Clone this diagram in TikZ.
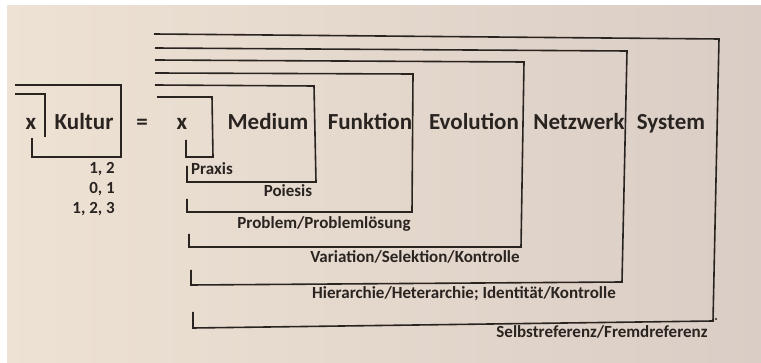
\documentclass[tikz,border=0pt]{standalone}
\usepackage{fontspec}
\setmainfont{Carlito}
\begin{document}
\begin{tikzpicture}[x=1pt,y=-1pt,
  mk/.style={line width=1.6pt,draw=ink,line join=miter},
  big/.style={inner sep=0pt,anchor=base,text=ink,font=\bfseries\fontsize{23}{27}\selectfont},
  small/.style={inner sep=0pt,anchor=base,text=ink,font=\bfseries\fontsize{17}{20}\selectfont}]
\definecolor{ink}{HTML}{2A2421}
\definecolor{paperL}{HTML}{EEE2D4}
\definecolor{paperR}{HTML}{DACDC5}
% paper
\useasboundingbox (0,0) rectangle (761,363);
\shade[left color=paperL,right color=paperR] (0,0) rectangle (761,363);
\fill[white] (0,0) rectangle (761,5);
\fill[white] (0,0) rectangle (7,363);

% left side: x re-entering Kultur
\draw[mk] (15,85) -- (121,85) -- (121,157) -- (32,157) -- (32,138);
\draw[mk] (15,94) -- (45,94) -- (45,137);
\node[big] (x1) at (31,130) {x};
\node[big] (kultur) at (84,130) {Kultur};
\node[big] (eq) at (142,130) {=};
\node[small,anchor=base east] (n1) at (115,174) {1, 2};
\node[small,anchor=base east] (n2) at (115,194) {0, 1};
\node[small,anchor=base east] (n3) at (115,214) {1, 2, 3};

% right side: nested marks with re-entry
\draw[mk] (157,97) -- (212,97) -- (213,157) -- (186,157) -- (186,140);
\draw[mk] (155,85) -- (314,86) -- (316,182) -- (187,182) -- (187,166);
\draw[mk] (155,73) -- (413,74) -- (412,212) -- (187,212) -- (187,199);
\draw[mk] (155,60) -- (524,62) -- (521,247) -- (189,247) -- (189,234);
\draw[mk] (155,48) -- (627,51) -- (622,282) -- (191,285) -- (191,270);
\draw[mk] (154,34) -- (719,39) -- (713,321) -- (193,328) -- (193,312);
\fill[ink] (716,319) circle (1.2pt);

\node[big] (x2) at (182,130) {x};
\node[big] (medium) at (268,130) {Medium};
\node[big] (funktion) at (370,130) {Funktion};
\node[big] (evolution) at (474,130) {Evolution};
\node[big] (netzwerk) at (579,130) {Netzwerk};
\node[big] (system) at (671,130) {System};

\node[small,anchor=base west] (praxis) at (191,175) {Praxis};
\node[small] (poiesis) at (288,197) {Poiesis};
\node[small] (problem) at (324,229) {Problem/Problemlösung};
\node[small] (variation) at (415,263) {Variation/Selektion/Kontrolle};
\node[small] (hierarchie) at (464,299) {Hierarchie/Heterarchie; Identität/Kontrolle};
\node[small] (selbst) at (602,338) {Selbstreferenz/Fremdreferenz};
\end{tikzpicture}
\end{document}
